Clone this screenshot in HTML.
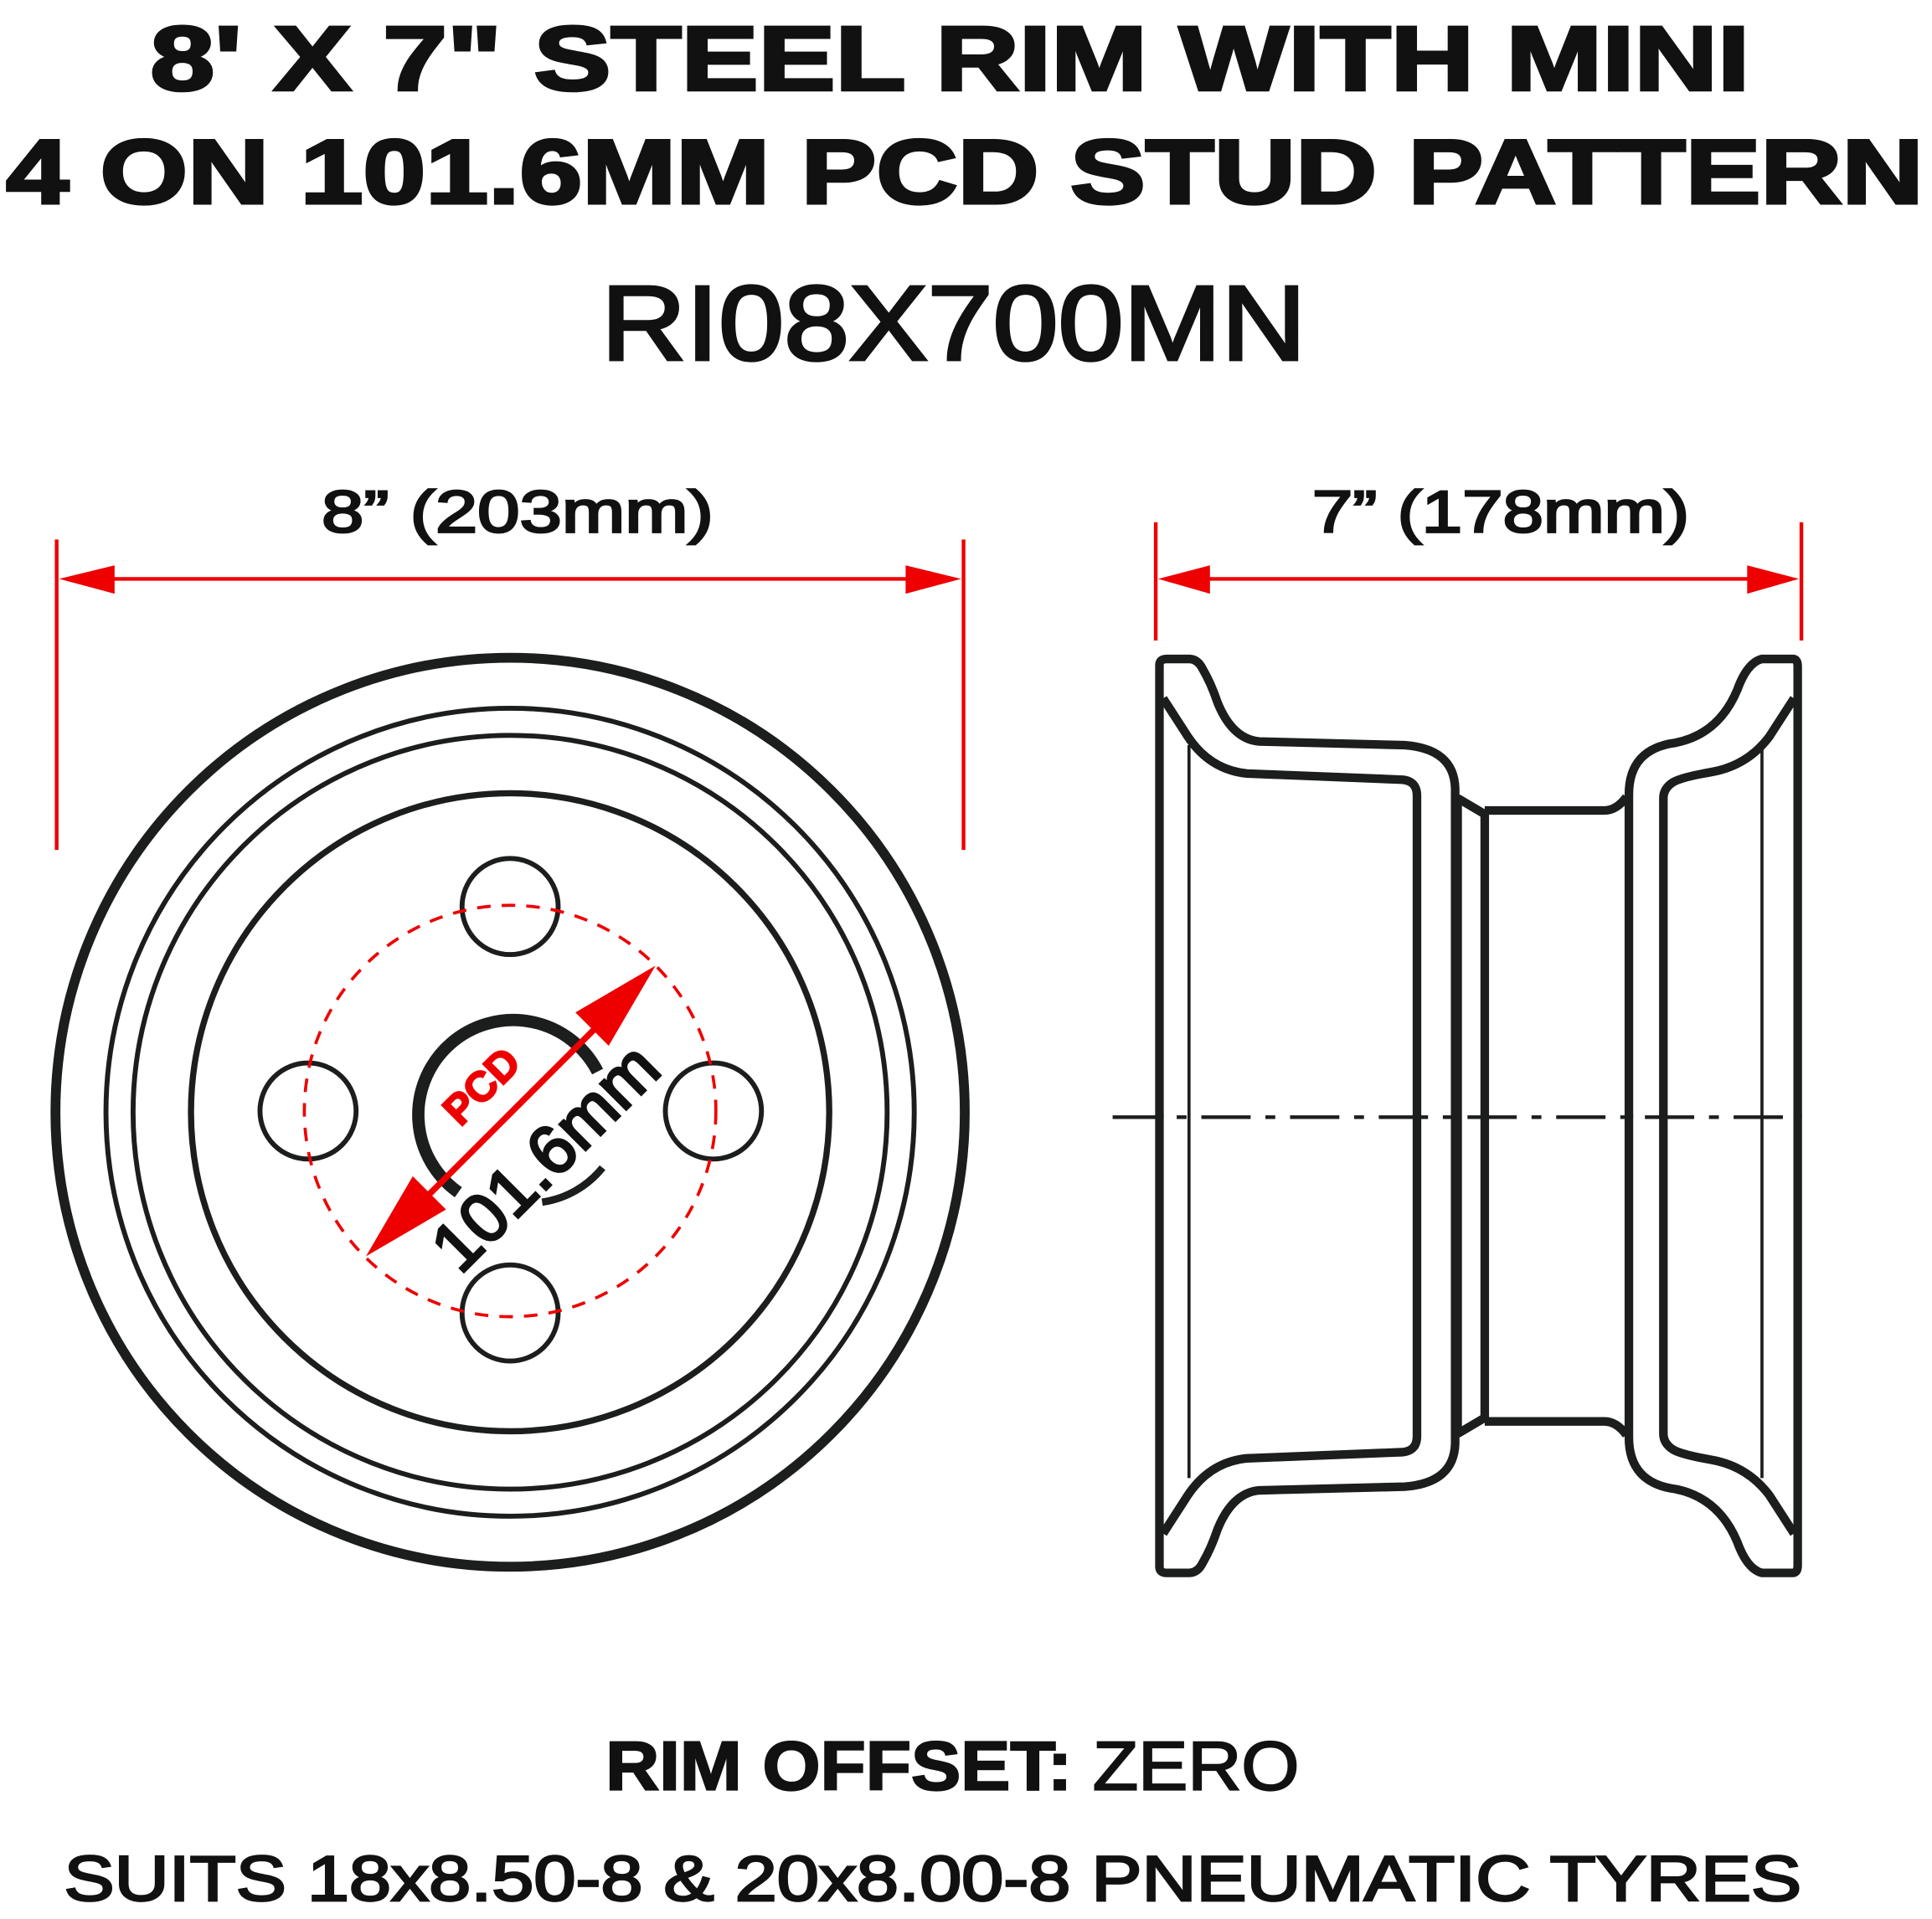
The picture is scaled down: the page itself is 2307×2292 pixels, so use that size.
<!DOCTYPE html>
<html><head><meta charset="utf-8"><style>
html,body{margin:0;padding:0;background:#fff;}
svg{display:block;}
</style></head><body>
<svg width="2307" height="2292" viewBox="0 0 1568 1558" preserveAspectRatio="none" xmlns="http://www.w3.org/2000/svg">
<rect width="1568" height="1558" fill="#fff"/>
<g font-family="Liberation Sans, sans-serif" fill="#111" text-anchor="middle" stroke="#111">
<text x="771" y="73" font-size="74" font-weight="900" textLength="1298" lengthAdjust="spacingAndGlyphs" stroke-width="2.5">8' X 7" STEEL RIM WITH MINI</text>
<text x="783" y="165" font-size="74" font-weight="900" textLength="1556" lengthAdjust="spacingAndGlyphs" stroke-width="2.5">4 ON 101.6MM PCD STUD PATTERN</text>
<text x="774" y="292" font-size="86" textLength="572" lengthAdjust="spacingAndGlyphs" stroke-width="2.5">RI08X700MN</text>
<text x="420" y="432" font-size="48" textLength="318" lengthAdjust="spacingAndGlyphs" stroke-width="1.8">8” (203mm)</text>
<text x="1218" y="432" font-size="48" textLength="306" lengthAdjust="spacingAndGlyphs" stroke-width="1.8">7” (178mm)</text>
<text x="773" y="1453" font-size="56" textLength="563" lengthAdjust="spacingAndGlyphs"><tspan font-weight="900" stroke-width="1.5">RIM OFFSET: </tspan><tspan stroke-width="1.5">ZERO</tspan></text>
<text x="757" y="1543" font-size="52" textLength="1410" lengthAdjust="spacingAndGlyphs" stroke-width="1.8">SUITS 18x8.50-8 &amp; 20x8.00-8 PNEUMATIC TYRES</text>
</g>
<!-- dimensions -->
<g stroke="#e00" stroke-width="3" fill="#e00">
<line x1="46" y1="438" x2="46" y2="690"/>
<line x1="782" y1="438" x2="782" y2="690"/>
<line x1="90" y1="470" x2="740" y2="470"/>
<polygon points="48,470 93,459 93,482" stroke="none"/>
<polygon points="780,470 735,459 735,482" stroke="none"/>
<line x1="938" y1="424" x2="938" y2="520"/>
<line x1="1462" y1="424" x2="1462" y2="520"/>
<line x1="980" y1="470" x2="1420" y2="470"/>
<polygon points="940,470 982,459 982,482" stroke="none"/>
<polygon points="1460,470 1418,459 1418,482" stroke="none"/>
</g>
<!-- front view -->
<g fill="none" stroke="#1c1e1d">
<circle cx="414" cy="903" r="369" stroke-width="8"/>
<circle cx="414" cy="903" r="328" stroke-width="4"/>
<circle cx="414" cy="903" r="306" stroke-width="4"/>
<circle cx="414" cy="903" r="259" stroke-width="5"/>
<circle cx="414" cy="736" r="39" stroke-width="4"/>
<circle cx="250" cy="902" r="39" stroke-width="4"/>
<circle cx="579" cy="902" r="39" stroke-width="4"/>
<circle cx="414" cy="1066" r="39" stroke-width="4"/>
<path d="M372,968 A77,77 0 1 1 485,870" stroke-width="10"/>
<path d="M489,948 A77,77 0 0 1 440,976" stroke-width="6"/>
</g>
<circle cx="414" cy="902" r="167" fill="none" stroke="#e00" stroke-width="2.5" stroke-dasharray="11,9"/>
<g fill="#e00">
<line x1="330" y1="988" x2="500" y2="818" stroke="#e00" stroke-width="5"/>
<polygon points="532,784 467,822 494,849"/>
<polygon points="297,1020 335,955 362,982"/>
</g>
<text transform="translate(399,890) rotate(-45)" font-family="Liberation Sans, sans-serif" font-weight="900" font-size="34" fill="#e00" stroke="#e00" stroke-width="1.5" text-anchor="middle">PCD</text>
<text transform="translate(456,953) rotate(-45)" font-family="Liberation Sans, sans-serif" font-size="56" fill="#111" stroke="#111" stroke-width="2.2" text-anchor="middle">101.6mm</text>
<!-- side view -->
<g fill="none" stroke="#1c1e1d" stroke-linejoin="round">
<g id="half" stroke-width="7">
<path d="M941,907 V540 Q941,535 947,535 H965 Q972,535 976,543 Q983,555 988,570 Q1000,600 1022,602 L1140,605 Q1180,608 1181,640 V907"/>
<path d="M944,567 L964,598 Q982,625 1012,628 L1138,633 Q1150,634 1150,646 V907"/>
<path d="M1183,648 L1205,661 V907"/>
<path d="M1205,658 H1302 Q1312,658 1320,647"/>
<path d="M1322,907 V645 Q1322,608 1360,603 Q1395,596 1410,560 Q1418,538 1430,535 H1455 Q1459,535 1459,541 V907"/>
<path d="M1456,567 L1436,598 Q1418,622 1388,627 Q1365,631 1358,635 Q1350,640 1350,648 V907"/>
</g>
<use href="#half" transform="translate(0,1812) scale(1,-1)"/>
<line x1="965" y1="605" x2="965" y2="1200" stroke-width="2.5"/>
<line x1="1430" y1="605" x2="1430" y2="1200" stroke-width="2.5"/>
<line x1="1183" y1="648" x2="1183" y2="1164" stroke-width="7"/>
<line x1="903" y1="907" x2="1450" y2="907" stroke-width="3" stroke-dasharray="40,12,8,12"/>
</g>
</svg>
</body></html>
